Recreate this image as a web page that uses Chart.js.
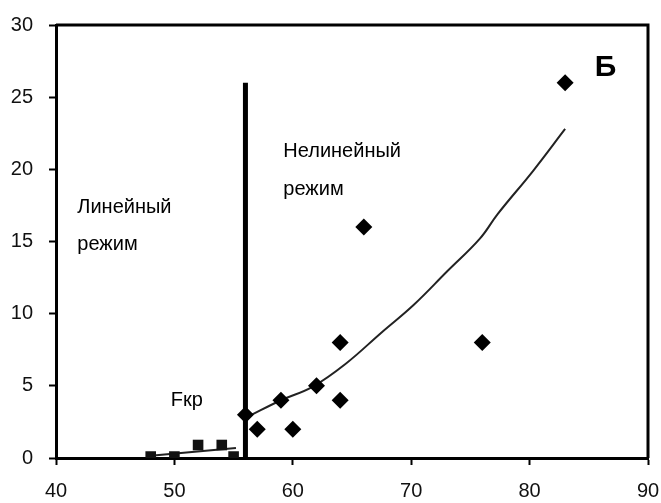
<!DOCTYPE html>
<html>
<head>
<meta charset="utf-8">
<script src="https://cdn.jsdelivr.net/npm/chart.js@4"></script>
<style>
  html, body { margin: 0; padding: 0; background: #fff; }
  #wrap { width: 661px; height: 503px; position: relative; }
</style>
</head>
<body>
<div id="wrap"><canvas id="chart"></canvas></div>
<script>
// linear regime (squares)
const linX = [48, 50, 52, 54, 55]
const linY = [0.1, 0.1, 0.9, 0.9, 0.1]
const linTrendX = [48, 55.2]
const linTrendY = [0.15, 0.7]

// nonlinear regime (diamonds)
const nonX = [56, 57, 59, 60, 62, 64, 64, 66, 76, 83]
const nonY = [3, 2, 4, 2, 5, 8, 4, 16, 8, 26]
const nonTrendX = [56.3, 59, 61.7, 64.5, 67.5, 70.2, 73, 75.8, 77.3, 80.3, 83]
const nonTrendY = [2.9, 4.0, 4.95, 6.55, 8.7, 10.6, 12.9, 15.2, 16.9, 19.9, 22.8]

// critical force line
const critX = [56, 56]
const critY = [0, 26]

const xTicks = [40, 50, 60, 70, 80, 90]
const yTicks = [0, 5, 10, 15, 20, 25, 30]

const toPts = (xs, ys) => xs.map((x, i) => ({ x: x, y: ys[i] }))

// text notes, placed in data units
const notes = [
  { text: 'Нелинейный', x: 59.2, y: 20.85, font: '20px "Liberation Sans", Arial, sans-serif' },
  { text: 'режим', x: 59.2, y: 18.25, font: '20px "Liberation Sans", Arial, sans-serif' },
  { text: 'Линейный', x: 41.8, y: 16.95, font: '20px "Liberation Sans", Arial, sans-serif' },
  { text: 'режим', x: 41.8, y: 14.4, font: '20px "Liberation Sans", Arial, sans-serif' },
  { text: 'Fкр', x: 49.7, y: 3.6, font: '20px "Liberation Sans", Arial, sans-serif' },
  { text: 'Б', x: 85.5, y: 26.45, font: 'bold 30px "Liberation Sans", Arial, sans-serif' }
]

const framePlugin = {
  id: 'frame',
  afterDraw (chart) {
    const { ctx, chartArea, scales } = chart
    ctx.save()
    ctx.strokeStyle = '#000'
    ctx.lineWidth = 3
    ctx.beginPath()
    ctx.moveTo(chartArea.left, chartArea.top)
    ctx.lineTo(chartArea.right, chartArea.top)
    ctx.lineTo(chartArea.right, chartArea.bottom)
    ctx.stroke()
    ctx.fillStyle = '#000'
    ctx.textAlign = 'left'
    ctx.textBaseline = 'alphabetic'
    notes.forEach((n) => {
      ctx.font = n.font
      ctx.fillText(n.text, scales.x.getPixelForValue(n.x), scales.y.getPixelForValue(n.y))
    })
    ctx.restore()
  }
}

const tickFont = { family: '"Liberation Sans", Arial, sans-serif', size: 20 }

const chart = new Chart(
  document.getElementById('chart').getContext('2d'),
  {
    type: 'scatter',
    data: {
      datasets: [
        {
          label: 'linear',
          data: toPts(linX, linY),
          pointStyle: 'rect',
          pointRadius: 7.5,
          backgroundColor: '#111',
          borderColor: '#111',
          borderWidth: 0,
          order: 0
        },
        {
          label: 'nonlinear',
          data: toPts(nonX, nonY),
          pointStyle: 'rectRot',
          pointRadius: 8.5,
          backgroundColor: '#000',
          borderColor: '#000',
          borderWidth: 0,
          order: 0
        },
        {
          label: 'linear trend',
          data: toPts(linTrendX, linTrendY),
          showLine: true,
          borderColor: '#222',
          borderWidth: 2,
          pointRadius: 0,
          order: 1
        },
        {
          label: 'nonlinear trend',
          data: toPts(nonTrendX, nonTrendY),
          showLine: true,
          borderColor: '#222',
          borderWidth: 2,
          pointRadius: 0,
          tension: 0.4,
          order: 1
        },
        {
          label: 'Fkr',
          data: toPts(critX, critY),
          showLine: true,
          borderColor: '#000',
          borderWidth: 5,
          pointRadius: 0,
          borderCapStyle: 'butt',
          order: 2
        }
      ]
    },
    options: {
      responsive: true,
      maintainAspectRatio: false,
      animation: false,
      layout: { padding: 0 },
      scales: {
        x: {
          type: 'linear',
          min: 40,
          max: 90,
          afterBuildTicks: (scale) => { scale.ticks = xTicks.map(v => ({ value: v })) },
          afterFit: (scale) => {
            scale.height = 45
            scale.paddingLeft = 0
            scale.paddingRight = 13
          },
          grid: { drawOnChartArea: false, drawTicks: true, tickLength: 7, tickColor: '#000', tickWidth: 2 },
          border: { display: true, color: '#000', width: 3 },
          ticks: { font: tickFont, color: '#111', padding: 14, maxRotation: 0 }
        },
        y: {
          type: 'linear',
          min: 0,
          max: 30,
          afterBuildTicks: (scale) => { scale.ticks = yTicks.map(v => ({ value: v })) },
          afterFit: (scale) => {
            scale.width = 56
            scale.paddingTop = 25
            scale.paddingBottom = 0
          },
          grid: { drawOnChartArea: false, drawTicks: true, tickLength: 7, tickColor: '#000', tickWidth: 2 },
          border: { display: true, color: '#000', width: 3 },
          ticks: { font: tickFont, color: '#111', padding: 16 }
        }
      },
      plugins: {
        legend: { display: false },
        tooltip: { enabled: false }
      }
    },
    plugins: [framePlugin]
  }
)
</script>
</body>
</html>
